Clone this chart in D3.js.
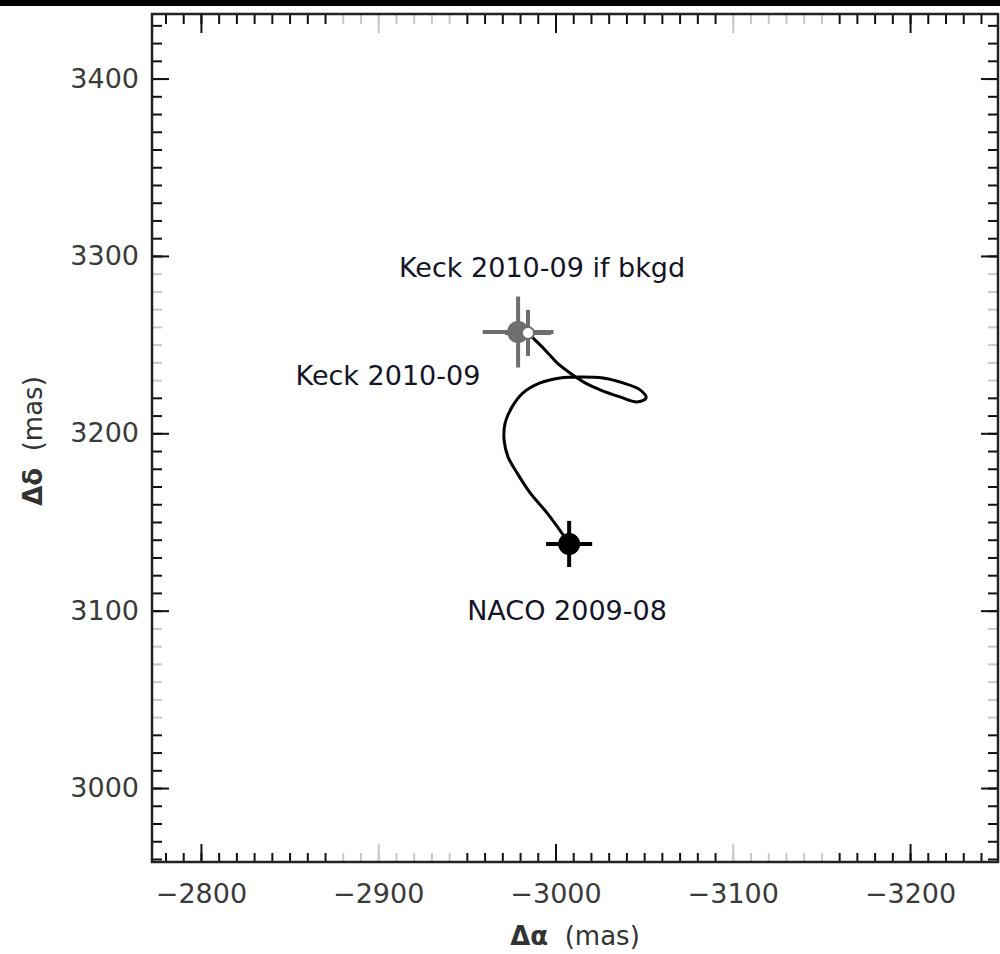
<!DOCTYPE html>
<html>
<head>
<meta charset="utf-8">
<script src="https://cdn.jsdelivr.net/npm/d3@7"></script>
<style>
    html, body { margin: 0; padding: 0; background: #fff; }
    svg { display: block; }
</style>
</head>
<body>
<svg width="1000" height="954"></svg>
<script>
// background track of the companion candidate, NACO 2009-08 -> Keck 2010-09 (mas)
const trackRA = [-3007.7, -3004.3, -2995.2, -2985.7, -2978.3, -2973.2, -2971.0, -2971.6, -2975.5,
    -2981.7, -2991.3, -3002.6, -3013.9, -3026.8, -3038.1, -3047.7, -3051.1, -3046.0, -3036.4,
    -3025.2, -3016.7, -3008.2, -3000.9, -2994.1, -2989.0, -2985.1];
const trackDec = [3137.6, 3142.7, 3155.1, 3166.4, 3177.7, 3186.7, 3196.3, 3205.9, 3214.9,
    3222.8, 3228.4, 3231.2, 3231.8, 3231.2, 3228.4, 3224.5, 3219.9, 3217.7, 3220.5,
    3224.5, 3228.4, 3234.0, 3239.7, 3247.0, 3252.1, 3256.0];

// measured / predicted positions
const epochNames = ["NACO 2009-08", "Keck 2010-09", "Keck 2010-09 if bkgd"];
const epochRA = [-3007.7, -2978.9, -2984.5];
const epochDec = [3137.6, 3257.1, 3256.6];
const epochErrRA = [13, 20, 13];
const epochErrDec = [13, 20, 13];

// text labels and where they sit (data units)
const labelText = ["Keck 2010-09 if bkgd", "Keck 2010-09", "NACO 2009-08"];
const labelRA = [-2992.4, -2905.5, -3006.5];
const labelDec = [3288.1, 3227.3, 3094.8];

const xMajor = [-2800, -2900, -3000, -3100, -3200];
const yMajor = [3000, 3100, 3200, 3300, 3400];
// ticks that look washed out in the original
const xFaint = [[-2940, -2880], [-3150, -3100]];
const yFaint = [[3230, 3290], [3040, 3090]];

const svg = d3.select("svg");
const padL = 152, padR = 998, padT = 14, padB = 862;

const x = d3.scaleLinear().domain([-2772.4, -3249.6]).range([padL, padR]);
const y = d3.scaleLinear().domain([2958.3, 3436.4]).range([padB, padT]);

const minorX = d3.range(-2780, -3250, -10);
const minorY = d3.range(2960, 3440, 10);

function faint(v, spans) {
    return spans.some(s => v >= s[0] - 0.1 && v <= s[1] + 0.1);
}

// black strip at the very top of the scan
svg.append("rect").attr("x", 0).attr("y", 0).attr("width", 1000).attr("height", 6).attr("fill", "#000");

function drawAxis(gen, tr, spans) {
    const g = svg.append("g").attr("transform", tr).call(gen);
    g.select(".domain").remove();
    g.selectAll(".tick line")
        .attr("stroke-width", 2)
        .attr("stroke", d => faint(d, spans) ? "#c8c8c8" : "#111");
    g.selectAll(".tick text")
        .attr("font-family", "DejaVu Sans, sans-serif")
        .attr("font-size", 27)
        .attr("fill", "#3a3a3a");
    return g;
}

const fmt = d => d < 0 ? "\u2212" + Math.abs(d) : String(d);

// minor ticks
drawAxis(d3.axisBottom(x).tickValues(minorX).tickSize(-9).tickFormat(""), `translate(0,${padB})`, xFaint);
drawAxis(d3.axisTop(x).tickValues(minorX).tickSize(-10).tickFormat(""), `translate(0,${padT})`, xFaint);
drawAxis(d3.axisLeft(y).tickValues(minorY).tickSize(-10).tickFormat(""), `translate(${padL},0)`, yFaint);
drawAxis(d3.axisRight(y).tickValues(minorY).tickSize(-10).tickFormat(""), `translate(${padR},0)`, yFaint);

// major ticks
drawAxis(d3.axisBottom(x).tickValues(xMajor).tickSize(-18).tickPadding(22).tickFormat(fmt), `translate(0,${padB})`, xFaint);
drawAxis(d3.axisTop(x).tickValues(xMajor).tickSize(-19).tickFormat(""), `translate(0,${padT})`, xFaint);
drawAxis(d3.axisLeft(y).tickValues(yMajor).tickSize(-17).tickPadding(13).tickFormat(fmt), `translate(${padL},0)`, yFaint);
drawAxis(d3.axisRight(y).tickValues(yMajor).tickSize(-17).tickFormat(""), `translate(${padR},0)`, yFaint);

// frame
svg.append("rect")
    .attr("x", padL).attr("y", padT)
    .attr("width", padR - padL).attr("height", padB - padT)
    .attr("fill", "none").attr("stroke", "#222").attr("stroke-width", 2.5);

// axis titles
const xt = svg.append("text")
    .attr("x", 575).attr("y", 945)
    .attr("text-anchor", "middle")
    .attr("font-family", "DejaVu Sans, sans-serif")
    .attr("font-size", 26).attr("fill", "#333")
    .attr("xml:space", "preserve");
xt.append("tspan").attr("font-weight", "bold").text("\u0394\u03b1");
xt.append("tspan").text("  (mas)");

const yt = svg.append("text")
    .attr("transform", "translate(42,441) rotate(-90)")
    .attr("text-anchor", "middle")
    .attr("font-family", "DejaVu Sans, sans-serif")
    .attr("font-size", 26).attr("fill", "#333")
    .attr("xml:space", "preserve");
yt.append("tspan").attr("font-weight", "bold").text("\u0394\u03b4");
yt.append("tspan").text("  (mas)");

// track
const line = d3.line()
    .x(d => x(d[0]))
    .y(d => y(d[1]))
    .curve(d3.curveCatmullRom.alpha(0.5));

svg.append("path")
    .datum(trackRA.map((v, i) => [v, trackDec[i]]))
    .attr("d", line)
    .attr("fill", "none")
    .attr("stroke", "#000")
    .attr("stroke-width", 3);

// error bars + markers
const colors = ["#000", "#6e6e6e", "#6e6e6e"];
const order = [1, 2, 0];
order.forEach(i => {
    const g = svg.append("g");
    g.append("line")
        .attr("x1", x(epochRA[i] + epochErrRA[i])).attr("x2", x(epochRA[i] - epochErrRA[i]))
        .attr("y1", y(epochDec[i])).attr("y2", y(epochDec[i]))
        .attr("stroke", colors[i]).attr("stroke-width", 4);
    g.append("line")
        .attr("x1", x(epochRA[i])).attr("x2", x(epochRA[i]))
        .attr("y1", y(epochDec[i] + epochErrDec[i])).attr("y2", y(epochDec[i] - epochErrDec[i]))
        .attr("stroke", colors[i]).attr("stroke-width", 4);
    if (i === 2) {
        g.append("circle")
            .attr("cx", x(epochRA[i])).attr("cy", y(epochDec[i])).attr("r", 6)
            .attr("fill", "#fff").attr("stroke", colors[i]).attr("stroke-width", 2);
    } else {
        g.append("circle")
            .attr("cx", x(epochRA[i])).attr("cy", y(epochDec[i])).attr("r", 11)
            .attr("fill", colors[i]);
    }
});

// labels
svg.append("g").selectAll("text")
    .data(labelText)
    .join("text")
    .attr("x", (d, i) => x(labelRA[i]))
    .attr("y", (d, i) => y(labelDec[i]))
    .attr("text-anchor", "middle")
    .attr("font-family", "DejaVu Sans, sans-serif")
    .attr("font-size", 27)
    .attr("fill", "#141428")
    .text(d => d);
</script>
</body>
</html>
